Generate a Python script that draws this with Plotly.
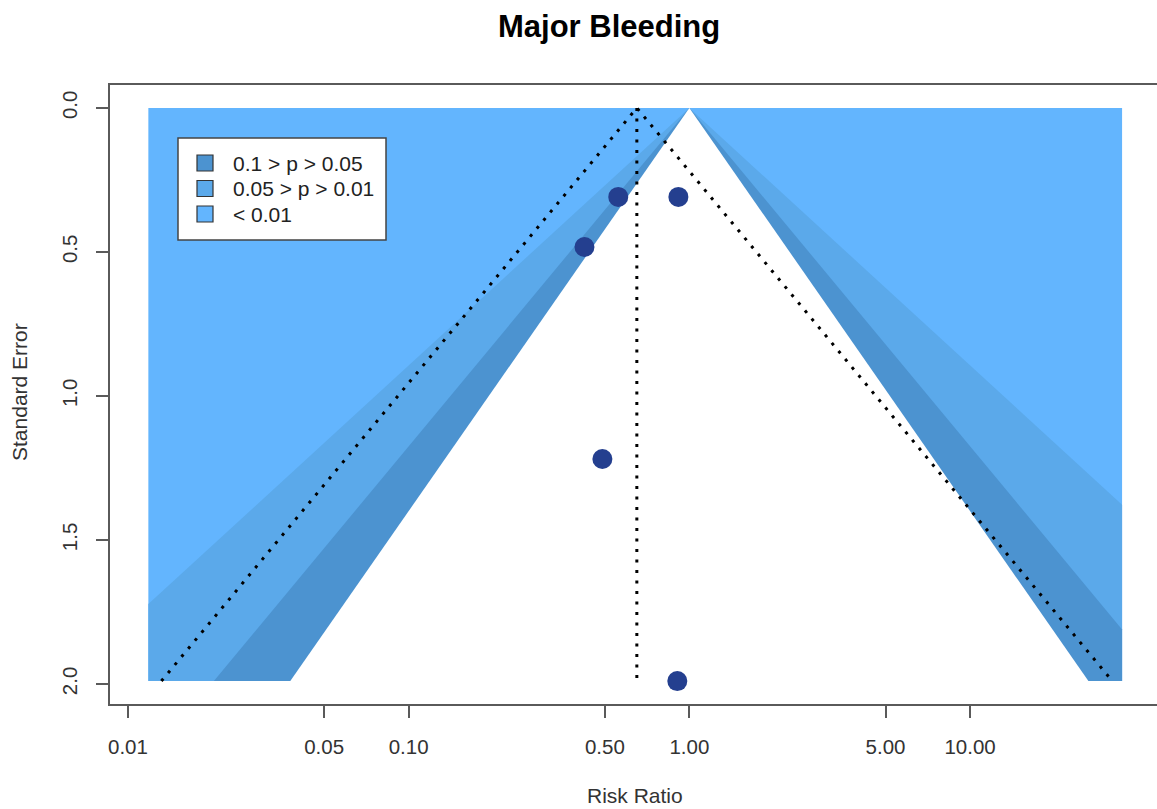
import numpy as np
import plotly.graph_objects as go

# Study-level risk ratios and standard errors
risk_ratio = [0.558, 0.914, 0.423, 0.490, 0.906]
std_error = [0.309, 0.309, 0.483, 1.219, 1.99]

# Pooled (fixed-effect) estimate and horizontal extent of the shaded contours
pooled_rr = 0.65
shade_rr_range = [0.01182, 34.8]

# Contour z-values (p = 0.01, 0.05, 0.10) and their fills, drawn outer to inner
contour_z = [2.576, 1.96, 1.645]
contour_colors = ["#5BA9EA", "#4C93D0", "#FFFFFF"]
outer_color = "#63B5FE"

x_tick_vals = [0.01, 0.05, 0.10, 0.50, 1.00, 5.00, 10.00]
x_tick_text = ["0.01", "0.05", "0.10", "0.50", "1.00", "5.00", "10.00"]
y_tick_vals = [0.0, 0.5, 1.0, 1.5, 2.0]
y_tick_text = ["0.0", "0.5", "1.0", "1.5", "2.0"]

legend_labels = ["0.1 > p > 0.05", "0.05 > p > 0.01", "< 0.01"]
legend_colors = ["#4C93D0", "#5BA9EA", "#63B5FE"]

FONT = "Liberation Sans, Arial, Helvetica, sans-serif"
W, H = 1157, 809
L, T, B = 110, 85, 105
PW, PH = W - L, H - T - B

se_top = max(std_error)
xmin, xmax = shade_rr_range


def px_x(p):
    return (p - L) / PW


def px_y(p):
    return (H - B - p) / PH


def contour_polygon(z):
    """Region |log RR| < z * SE, clipped to the shaded rectangle."""
    xs, ys = [1.0], [0.0]
    se_l = -np.log(xmin) / z
    if se_l < se_top:
        xs += [xmin, xmin]
        ys += [se_l, se_top]
    else:
        xs.append(np.exp(-z * se_top))
        ys.append(se_top)
    se_r = np.log(xmax) / z
    if se_r < se_top:
        xs += [xmax, xmax]
        ys += [se_top, se_r]
    else:
        xs.append(np.exp(z * se_top))
        ys.append(se_top)
    xs.append(1.0)
    ys.append(0.0)
    return xs, ys


fig = go.Figure()

# outer region (p < 0.01)
fig.add_trace(go.Scatter(
    x=[xmin, xmax, xmax, xmin, xmin], y=[0, 0, se_top, se_top, 0],
    mode="lines", fill="toself", fillcolor=outer_color,
    line=dict(width=0), hoverinfo="skip", showlegend=False))

for z, col in zip(contour_z, contour_colors):
    xs, ys = contour_polygon(z)
    fig.add_trace(go.Scatter(
        x=xs, y=ys, mode="lines", fill="toself", fillcolor=col,
        line=dict(width=0), hoverinfo="skip", showlegend=False))

# pseudo-confidence funnel around the pooled estimate
dot = dict(color="black", width=3, dash="3px,7.5px")
lo = pooled_rr * np.exp(-1.96 * se_top)
hi = pooled_rr * np.exp(1.96 * se_top)
fig.add_trace(go.Scatter(x=[lo, pooled_rr, hi], y=[se_top, 0, se_top],
                         mode="lines", line=dot, hoverinfo="skip", showlegend=False))
fig.add_trace(go.Scatter(x=[pooled_rr, pooled_rr], y=[0, se_top],
                         mode="lines", line=dot, hoverinfo="skip", showlegend=False))

# studies
fig.add_trace(go.Scatter(
    x=risk_ratio, y=std_error, mode="markers",
    marker=dict(size=20, color="#243F8F", line=dict(width=0)),
    hoverinfo="skip", showlegend=False))

axis_col = "#5a5a5a"
tick_font = dict(family=FONT, size=20.5, color="#333333")

fig.update_xaxes(
    type="log", range=[-2.064, 1.666],
    tickvals=x_tick_vals, ticktext=x_tick_text,
    showgrid=False, zeroline=False,
    showline=True, mirror=True, linecolor=axis_col, linewidth=1.5,
    ticks="outside", ticklen=12, tickwidth=1.5, tickcolor=axis_col,
    tickfont=tick_font, ticklabelstandoff=12)
fig.update_yaxes(
    range=[2.0696, -0.0796],
    tickvals=y_tick_vals, ticktext=y_tick_text, tickangle=-90,
    showgrid=False, zeroline=False,
    showline=True, mirror=False, linecolor=axis_col, linewidth=1.5,
    ticks="outside", ticklen=12, tickwidth=1.5, tickcolor=axis_col,
    tickfont=tick_font, ticklabelstandoff=11)

shapes = []
annotations = []

# legend box
shapes.append(dict(type="rect", xref="paper", yref="paper",
                   x0=px_x(178), x1=px_x(386), y0=px_y(240), y1=px_y(138),
                   fillcolor="white", line=dict(color="#444444", width=1.5)))
for i, (lab, col) in enumerate(zip(legend_labels, legend_colors)):
    cy = 163 + i * 25.5
    shapes.append(dict(type="rect", xref="paper", yref="paper",
                       x0=px_x(197), x1=px_x(213), y0=px_y(cy + 8), y1=px_y(cy - 8),
                       fillcolor=col, line=dict(color="#333333", width=1.2)))
    annotations.append(dict(xref="paper", yref="paper", x=px_x(231), y=px_y(cy),
                            xanchor="left", yanchor="middle", showarrow=False,
                            text=lab, font=dict(family=FONT, size=21, color="#222222")))

annotations.append(dict(xref="paper", yref="paper", x=px_x(608.5), y=px_y(26),
                        xanchor="center", yanchor="middle", showarrow=False,
                        text="<b>Major Bleeding</b>",
                        font=dict(family=FONT, size=31, color="black")))
annotations.append(dict(xref="paper", yref="paper", x=px_x(635), y=px_y(795),
                        xanchor="center", yanchor="middle", showarrow=False,
                        text="Risk Ratio", font=dict(family=FONT, size=21, color="#333333")))
annotations.append(dict(xref="paper", yref="paper", x=px_x(20), y=px_y(392),
                        xanchor="center", yanchor="middle", showarrow=False, textangle=-90,
                        text="Standard Error", font=dict(family=FONT, size=21, color="#333333")))

fig.update_layout(
    width=W, height=H,
    margin=dict(l=L, r=0, t=T, b=B),
    paper_bgcolor="white", plot_bgcolor="white",
    shapes=shapes, annotations=annotations,
    showlegend=False)

fig.write_html("out.html")
